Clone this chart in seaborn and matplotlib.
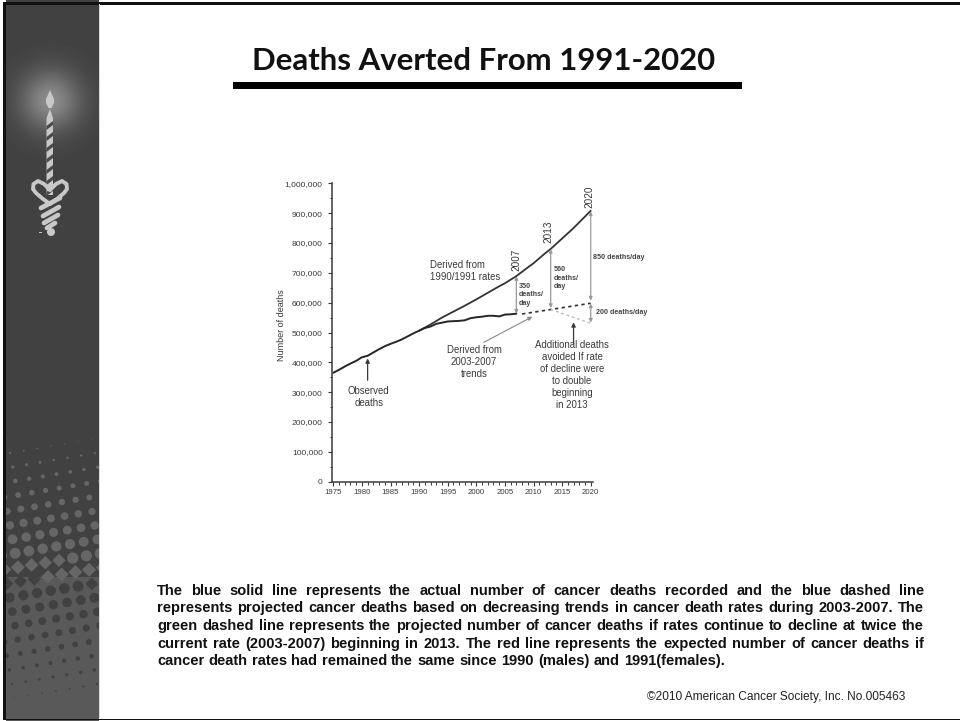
import numpy as np
import pandas as pd
import seaborn as sns
import matplotlib.pyplot as plt
from matplotlib.patches import Circle, Polygon, Rectangle, RegularPolygon

# Values
obs_years = list(range(1975, 2008))
obs_deaths = [365000, 375000, 386000, 396000, 405000, 417000, 422000, 433000, 444000, 454000, 462000,
              469000, 477000, 487000, 497000, 506000, 515000, 520000, 529000, 533000, 537000, 538000,
              539000, 541000, 548000, 551000, 553000, 556000, 556000, 554000, 560000, 561000, 563000]
rate_years = [1990, 1992, 1994, 1996, 1998, 2000, 2002, 2004, 2005, 2007, 2009, 2010, 2012, 2013, 2015, 2017, 2020]
rate_deaths = [506000, 527000, 550000, 570000, 590000, 611000, 633000, 655000, 665000, 689000, 718000,
               732000, 765000, 780000, 815000, 850000, 908000]
trend_years = [2008, 2013, 2020]
trend_deaths = [562000, 577000, 598000]
double_years = [2013, 2020]
double_deaths = [577000, 531000]

title = 'Deaths Averted From 1991-2020'
note_lines = [
    'The blue solid line represents the actual number of cancer deaths recorded and the blue dashed line',
    'represents projected cancer deaths based on decreasing trends in cancer death rates during 2003-2007. The',
    'green dashed line represents the projected number of cancer deaths if rates continue to decline at twice the',
    'current rate (2003-2007) beginning in 2013. The red line represents the expected number of cancer deaths if',
    'cancer death rates had remained the same since 1990 (males) and 1991(females).',
]
credit = '©2010 American Cancer Society, Inc. No.005463'

sns.set_theme(style='white')
plt.rcParams['font.family'] = ['Liberation Sans', 'DejaVu Sans']

W, H = 960, 721
fig = plt.figure(figsize=(W / 100, H / 100), dpi=100, facecolor='white')

# Slide background, drawn in pixel coordinates
bg = fig.add_axes([0, 0, 1, 1], zorder=0)
bg.set_xlim(0, W)
bg.set_ylim(H, 0)
bg.axis('off')

yy, xx = np.mgrid[0:H, 6:99]
side = np.where(yy < 577, 65.0, 90.0)
side += 75 * np.exp(-((xx - 50) ** 2 + (yy - 100) ** 2) / (2 * 21.0 ** 2))
bg.imshow(side, extent=(6, 99, H, 0), cmap='gray', vmin=0, vmax=255, aspect='auto', interpolation='bilinear')
bg.set_xlim(0, W)
bg.set_ylim(H, 0)

# Halftone dots
clip = Rectangle((6, 0), 93, H, transform=bg.transData)
for i in range(-6, 12):
    for j in range(-4, 26):
        x = 10 + i * 13.7 + j * 2.7
        y = 453 + i * -2.3 + j * 14.0
        r = 6.2 * (1 - abs(y - 570) / 140)
        if r > 0.3 and 0 <= x <= 105:
            col = '#666666' if y < 577 else '#414141'
            if 560 < y < 584:
                c = RegularPolygon((x, y), 4, radius=r * 1.15, fc=col, ec='none')
            else:
                c = Circle((x, y), r, fc=col, ec='none')
            bg.add_patch(c)
            c.set_clip_path(clip)

# Candle and snake emblem
emblem = '#c8c8c8'
bg.add_patch(Polygon([(50, 90), (54, 99), (54, 103), (51.5, 108), (48.5, 108), (46, 103), (46, 99)], fc=emblem, ec='none'))
bg.add_patch(Polygon([(46.5, 118), (50, 109), (53, 118), (53, 195), (46.5, 195)], fc=emblem, ec='none'))
for y in range(121, 192, 11):
    bg.add_patch(Polygon([(46.5, y + 5), (53, y), (53, y + 4), (46.5, y + 9)], fc='#4a4a4a', ec='none'))
snake = dict(color=emblem, lw=2.8, solid_capstyle='round')
bg.plot([50, 44, 38, 33.5, 33, 36, 43, 50], [190, 184, 181, 184, 189, 193, 199, 204], **snake)
bg.plot([50, 56, 62, 66.5, 67, 64, 57, 50], [190, 184, 181, 184, 189, 193, 199, 204], **snake)
coil = dict(color=emblem, lw=3.4, solid_capstyle='round')
bg.plot([41, 60], [208, 198], **coil)
bg.plot([43, 59], [216, 207], **coil)
bg.plot([44, 58], [223, 215], **coil)
bg.plot([47, 55], [228, 223], **coil)
bg.add_patch(Circle((51, 232), 4, fc=emblem, ec='none'))
bg.add_patch(Rectangle((39, 232), 3, 1, fc=emblem, ec='none'))

# Slide frame
for rect in [(3, 2, 3, 718), (3, 2, 957, 2.5), (3, 718.5, 957, 1.5)]:
    bg.add_patch(Rectangle(rect[:2], rect[2], rect[3], fc='#111111', ec='none'))
bg.add_patch(Rectangle((99, 4), 1, 714, fc='#d8d8d8', ec='none'))

# Heading and rule
bg.text(483.5, 70, title, family='Lato', weight='bold', fontsize=22.4, ha='center', va='baseline', color='#111111')
bg.add_patch(Rectangle((233, 82), 509, 7, fc='black', ec='none'))

# Justified note, nudging each word so the baselines stay level
renderer = fig.canvas.get_renderer()
for n, line in enumerate(note_lines):
    words = line.split(' ')
    base = 595 + n * 17.5
    texts = [bg.text(0, base, w, weight='bold', fontsize=10.5, color='#111111', va='baseline') for w in words]
    widths = [t.get_window_extent(renderer).width for t in texts]
    space = (924 - 157 - sum(widths)) / (len(words) - 1)
    if n == len(note_lines) - 1:
        space = 4.3
    x = 157
    for t, w, word in zip(texts, widths, words):
        d = renderer.get_text_width_height_descent(word, t.get_fontproperties(), False)[2]
        t.set_position((x, round(base) - (np.ceil(d) - d)))
        x += w + space

bg.text(905, 697, credit, fontsize=8.6, color='#222222', ha='right', va='center')

# The chart
ink = '#3a3a3a'
x0, x1 = 331.7, 593.3
y0, y1 = 481.7, 183.3
ax = fig.add_axes([x0 / W, 1 - y0 / H, (x1 - x0) / W, (y0 - y1) / H], zorder=1)
ax.patch.set_alpha(0)

observed = pd.DataFrame({'year': obs_years, 'deaths': obs_deaths})
expected = pd.DataFrame({'year': rate_years, 'deaths': rate_deaths})
trend = pd.DataFrame({'year': trend_years, 'deaths': trend_deaths})
double = pd.DataFrame({'year': double_years, 'deaths': double_deaths})

sns.lineplot(data=expected, x='year', y='deaths', color='#333333', lw=1.3, ax=ax)
sns.lineplot(data=observed, x='year', y='deaths', color='#262626', lw=1.4, ax=ax)
sns.lineplot(data=trend, x='year', y='deaths', color='#333333', lw=1.2, ls=(0, (2, 2)), ax=ax)
sns.lineplot(data=double, x='year', y='deaths', color='#bdbdbd', lw=1.0, ls=(0, (2, 2)), ax=ax)

ax.set_xlim(1974.72, 2020.45)
ax.set_ylim(0, 1000000)
ax.set_xlabel('')
ax.set_ylabel('')
ax.set_xticks(range(1975, 2021, 5))
ax.set_xticks(range(1975, 2021), minor=True)
ax.set_yticks(range(0, 1000001, 100000))
ax.set_yticks(range(0, 1000001, 50000), minor=True)
ax.set_yticklabels([f'{v:,}' for v in range(0, 1000001, 100000)])
ax.tick_params(axis='both', which='major', length=3.2, width=0.8, color=ink, labelcolor=ink, bottom=True, left=True, pad=3.2)
ax.tick_params(axis='both', which='minor', length=1.8, width=0.7, color=ink, bottom=True, left=True)
ax.tick_params(axis='x', labelsize=5.6, pad=2)
ax.tick_params(axis='y', labelsize=6.1)
sns.despine(ax=ax)
for s in ['left', 'bottom']:
    ax.spines[s].set_color(ink)
    ax.spines[s].set_linewidth(1.1)

# Arrows
for year, low, high in [(2007, 563000, 689000), (2013, 582000, 780000), (2020, 607000, 906000), (2020, 533000, 597000)]:
    ax.annotate('', xy=(year, high), xytext=(year, low),
                arrowprops=dict(arrowstyle='<|-|>', color='#9a9a9a', lw=0.9, mutation_scale=5, shrinkA=0, shrinkB=0))
for xy, start in [((1981, 413000), (1981, 340000)), ((2017, 534000), (2017, 462000))]:
    ax.annotate('', xy=xy, xytext=start,
                arrowprops=dict(arrowstyle='-|>', color='#3a3a3a', lw=0.9, mutation_scale=6, shrinkA=0, shrinkB=0))
ax.annotate('', xy=(2009.8, 553000), xytext=(2001.3, 467000),
            arrowprops=dict(arrowstyle='-|>', color='#8a8a8a', lw=0.8, mutation_scale=6, shrinkA=0, shrinkB=0))

# Chart labels, in pixel coordinates
over = fig.add_axes([0, 0, 1, 1], zorder=2)
over.set_xlim(0, W)
over.set_ylim(H, 0)
over.axis('off')
label = dict(fontsize=6.9, color=ink, va='center', linespacing=1.25)
small = dict(fontsize=5.1, color='#444444', weight='bold', va='center', linespacing=1.35)
over.text(282, 325, 'Number of deaths', rotation=90, ha='center', fontsize=6.5, color=ink, va='center')
over.text(430, 271, 'Derived from\n1990/1991 rates', ha='left', **label)
over.text(474, 361.7, 'Derived from\n2003-2007\ntrends', ha='center', multialignment='center', **label)
over.text(572, 375, 'Additional deaths\navoided If rate\nof decline were\nto double\nbeginning\nin 2013',
          ha='center', multialignment='center', **label)
over.text(368.7, 396.7, 'Observed\ndeaths', ha='center', multialignment='center', **label)
for x, y, s in [(516, 260, '2007'), (548, 232, '2013'), (589, 197, '2020')]:
    over.text(x, y, s, rotation=90, ha='center', va='center', fontsize=7.2, color=ink)
over.text(519, 295, '350\ndeaths/\nday', ha='left', **small)
over.text(553.7, 278, '560\ndeaths/\nday', ha='left', **small)
over.text(593, 257.7, '850 deaths/day', ha='left', **small)
over.text(595.7, 313, '200 deaths/day', ha='left', **small)

fig.savefig('out.png', dpi=100)
